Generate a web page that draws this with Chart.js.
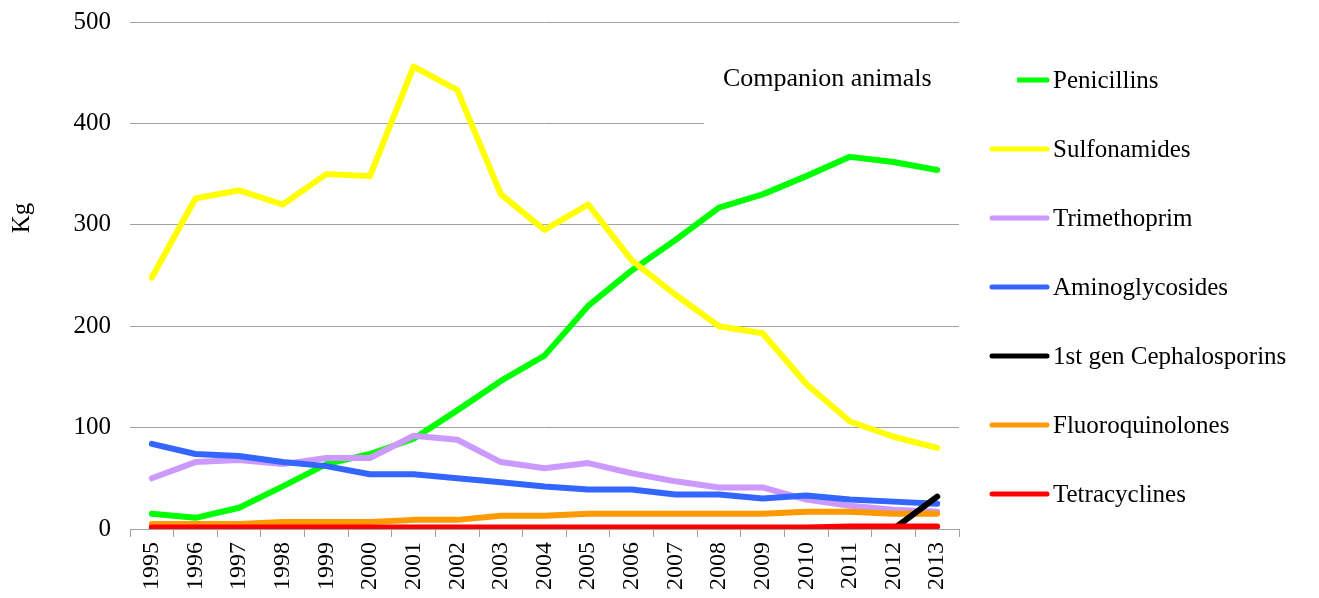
<!DOCTYPE html>
<html>
<head>
<meta charset="utf-8">
<script src="https://cdn.jsdelivr.net/npm/chart.js@4/dist/chart.umd.min.js"></script>
<style>
  html, body { margin: 0; padding: 0; background: #ffffff; }
  #wrap { width: 1319px; height: 598px; position: relative; }
</style>
</head>
<body>
<div id="wrap"><canvas id="c" width="1319" height="598"></canvas></div>
<script>
// Antimicrobial sales for companion animals, kg per year
const years = ['1995','1996','1997','1998','1999','2000','2001','2002','2003','2004',
               '2005','2006','2007','2008','2009','2010','2011','2012','2013'];
const yTicks = [0, 100, 200, 300, 400, 500];

const penicillins     = [15, 11, 21, 42, 64, 74, 89, 117, 146, 171, 220, 255, 285, 317, 330, 348, 367, 362, 354];
const sulfonamides    = [248, 326, 334, 320, 350, 348, 456, 433, 330, 295, 320, 265, 231, 200, 193, 143, 106, 91, 80];
const trimethoprim    = [50, 66, 68, 64, 70, 70, 92, 88, 66, 60, 65, 55, 47, 41, 41, 29, 23, 19, 17];
const aminoglycosides = [84, 74, 72, 66, 62, 54, 54, 50, 46, 42, 39, 39, 34, 34, 30, 33, 29, 27, 25];
const cephalosporins  = [0, 0, 0, 0, 0, 0, 0, 0, 0, 0, 0, 0, 0, 0, 0, 0, 0, 0, 32];
const fluoroquinolones = [5, 5, 5, 7, 7, 7, 9, 9, 13, 13, 15, 15, 15, 15, 15, 17, 17, 15, 15];
const tetracyclines   = [1.5, 1.5, 1.5, 1.5, 1.5, 1.5, 1.5, 1.5, 1.5, 1.5, 1.5, 1.5, 1.5, 1.5, 1.5, 1.5, 2.5, 2.5, 2.5];

const seriesNames = ['Penicillins', 'Sulfonamides', 'Trimethoprim', 'Aminoglycosides',
                     '1st gen Cephalosporins', 'Fluoroquinolones', 'Tetracyclines'];
const seriesValues = [penicillins, sulfonamides, trimethoprim, aminoglycosides,
                      cephalosporins, fluoroquinolones, tetracyclines];
const seriesColors = ['#00ff00', '#ffff00', '#cc99ff', '#3366ff', '#000000', '#ff9900', '#ff0000'];
// later series are painted over earlier ones; cephalosporins sit above fluoroquinolones
const seriesOrder = [6, 5, 4, 3, 1, 2, 0];

const chartTitle = 'Companion animals';
const axisTitle = 'Kg';

const SERIF = '"Liberation Serif", "Times New Roman", serif';
const GRID = '#a0a0a0';

// Legend, title panel and axis title drawn on top of the plot
const overlayPlugin = {
  id: 'overlay',
  afterDraw(chart) {
    const ctx = chart.ctx;
    ctx.save();

    // legend column on the right
    const legendTop = 80, legendStep = 69;
    chart.data.datasets.forEach((ds, i) => {
      const y = legendTop + i * legendStep;
      ctx.strokeStyle = ds.borderColor;
      ctx.lineWidth = 5;
      ctx.lineCap = 'round';
      ctx.beginPath();
      ctx.moveTo(992, y);
      ctx.lineTo(1047, y);
      ctx.stroke();
      ctx.fillStyle = '#000000';
      ctx.font = '25px ' + SERIF;
      ctx.textAlign = 'left';
      ctx.textBaseline = 'middle';
      ctx.fillText(ds.label, 1053, y + 1);
    });

    // title panel
    ctx.fillStyle = '#ffffff';
    ctx.fillRect(704, 30, 313, 98);
    ctx.fillStyle = '#000000';
    ctx.font = '26px ' + SERIF;
    ctx.textAlign = 'left';
    ctx.textBaseline = 'middle';
    ctx.fillText(chartTitle, 723, 79);

    // y axis title
    ctx.translate(22, 218);
    ctx.rotate(-Math.PI / 2);
    ctx.font = '25px ' + SERIF;
    ctx.textAlign = 'center';
    ctx.textBaseline = 'middle';
    ctx.fillText(axisTitle, 0, 0);

    ctx.restore();
  }
};

const datasets = seriesNames.map((name, i) => ({
  label: name,
  data: seriesValues[i],
  borderColor: seriesColors[i],
  backgroundColor: seriesColors[i],
  borderWidth: 6,
  borderCapStyle: 'round',
  borderJoinStyle: 'round',
  pointRadius: 0,
  pointHoverRadius: 0,
  tension: 0,
  fill: false,
  order: seriesOrder[i]
}));

new Chart(document.getElementById('c'), {
  type: 'line',
  data: { labels: years, datasets },
  options: {
    responsive: false,
    animation: false,
    devicePixelRatio: 1,
    layout: { padding: { top: 22, right: 360, bottom: 0, left: 0 } },
    plugins: {
      legend: { display: false },
      title: { display: false },
      tooltip: { enabled: false }
    },
    scales: {
      x: {
        type: 'category',
        offset: true,
        afterFit(scale) { scale.height = 69; },
        grid: {
          offset: true,
          drawOnChartArea: false,
          drawTicks: true,
          tickLength: 8,
          color: GRID,
          lineWidth: 1
        },
        border: { display: true, color: GRID, width: 1 },
        ticks: {
          autoSkip: false,
          minRotation: 90,
          maxRotation: 90,
          padding: 5,
          color: '#000000',
          font: { family: SERIF, size: 24 }
        }
      },
      y: {
        min: 0,
        max: 500,
        afterFit(scale) {
          scale.width = 130;
          scale.paddingTop = 0;
          scale.paddingBottom = 0;
        },
        afterBuildTicks(scale) { scale.ticks = yTicks.map(v => ({ value: v })); },
        grid: {
          drawTicks: false,
          color: GRID,
          lineWidth: 1
        },
        border: { display: false },
        ticks: {
          padding: 19,
          color: '#000000',
          font: { family: SERIF, size: 25 }
        }
      }
    }
  },
  plugins: [overlayPlugin]
});
</script>
</body>
</html>
